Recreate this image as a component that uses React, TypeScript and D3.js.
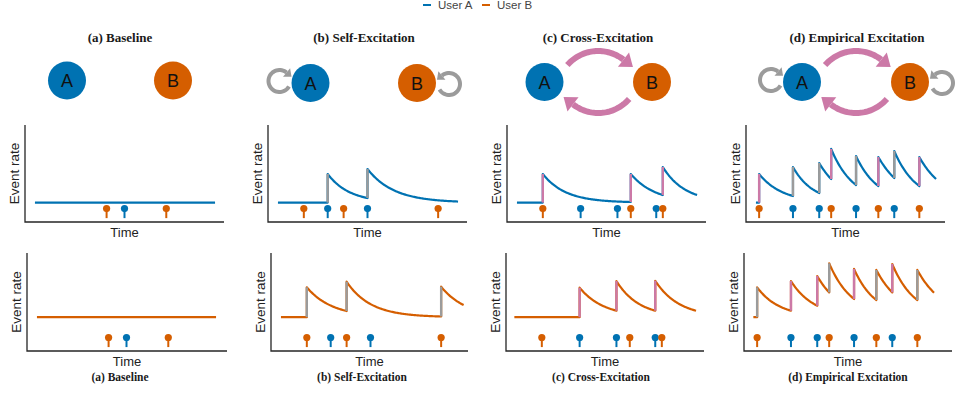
import { useEffect, useRef } from 'react';
import * as d3 from 'd3';

const BLUE = '#0072b2';
const ORANGE = '#d55e00';
const PINK = '#cc79a7';
const GRAY = '#9b9b9b';

const LEGEND_LABELS = ['User A', 'User B'];
const TITLES = ['(a) Baseline', '(b) Self-Excitation', '(c) Cross-Excitation', '(d) Empirical Excitation'];
const NODE_LABELS = ['A', 'B'];
const HAS_SELF_LOOPS = [false, true, false, true];
const HAS_CROSS_ARROWS = [false, false, true, true];

// event times (0-100 time units) per panel
const EVENTS_A = [[50], [30, 50], [37, 55.5, 75], [23.6, 36.8, 55.3, 74.5]];
const EVENTS_B = [[41, 71], [18, 38, 85.5], [18, 62.2, 78.3], [6.6, 42.8, 66.5, 87.1]];

// baseline rates and visible span of each rate curve
const BASE_A = 2;
const BASE_B = 3.45;
const START_A = [5, 5, 5, 5];
const END_A = [95.5, 95.5, 95.5, 95.5];
const START_B = [5, 5, 4.2, 4.7];
const END_B = [95, 96.8, 95.5, 95.5];

// jumps: [time, rate after jump, rate reached at next jump / end, source]
type Jump = [number, number, number, 'self' | 'cross'];
const JUMPS_A: Jump[][] = [
    [],
    [[30, 4.95, 2.47, 'self'], [50, 5.46, 2.11, 'self']],
    [[18, 4.95, 2.06, 'cross'], [62.2, 4.95, 2.78, 'cross'], [78.3, 5.67, 2.78, 'cross']],
    [
        [6.6, 4.95, 2.68, 'cross'], [23.6, 5.67, 2.99, 'self'], [36.8, 6.08, 4.43, 'self'],
        [42.8, 7.53, 3.81, 'cross'], [55.3, 6.8, 3.71, 'self'], [66.5, 6.7, 4.54, 'cross'],
        [74.5, 7.32, 3.71, 'self'], [87.1, 6.7, 4.43, 'cross']
    ]
];
const JUMPS_B: Jump[][] = [
    [],
    [[18, 6.5, 4.08, 'self'], [38, 7.07, 3.52, 'self'], [85.5, 6.56, 4.69, 'self']],
    [[37, 6.46, 4.11, 'cross'], [55.5, 7.14, 4.11, 'cross'], [75, 7.17, 4.11, 'cross']],
    [
        [6.6, 6.5, 4.11, 'self'], [23.6, 7.14, 4.62, 'cross'], [36.8, 7.65, 5.98, 'cross'],
        [42.8, 8.95, 5.31, 'self'], [55.3, 8.37, 5.2, 'cross'], [66.5, 8.27, 5.98, 'self'],
        [74.5, 8.88, 5.2, 'cross'], [87.1, 8.27, 5.95, 'self']
    ]
];

// layout
const W = 955;
const H = 394;
const X0_TOP = [25, 268, 507, 746];
const X0_BOT = [27, 271, 506, 744];
const AXIS_LEN_TOP = [199, 199, 199, 199];
const AXIS_LEN_BOT = [200, 197, 198, 208];
const TIME_LEN = 199;
const ROW_Y = [{ top: 125, bottom: 222 }, { top: 253, bottom: 351 }];
const TITLE_X_TOP = [120, 364, 598, 857];
const TITLE_X_BOT = [120, 362, 601, 848];
const NODE_X = [[67, 173], [310.5, 417], [544.5, 652], [802, 910]];
const NODE_Y = [80.5, 83, 82, 82];

const SANS = "'Liberation Sans', Arial, Helvetica, sans-serif";
const SERIF = "'Liberation Serif', 'Times New Roman', serif";

function ratePoints(base: number, start: number, end: number, jumps: Jump[]) {
    const pts: [number, number][] = [[start, base]];
    jumps.forEach((j, i) => {
        const [t0, peak, pre] = j;
        const prev = pts[pts.length - 1];
        pts.push([t0, prev[1]]);
        pts.push([t0, peak]);
        const t1 = i < jumps.length - 1 ? jumps[i + 1][0] : end;
        const k = Math.log((peak - base) / (pre - base)) / (t1 - t0);
        for (let t = t0 + 0.5; t < t1; t += 0.5) {
            pts.push([t, base + (peak - base) * Math.exp(-k * (t - t0))]);
        }
        pts.push([t1, pre]);
    });
    if (!jumps.length) pts.push([end, base]);
    return pts;
}

const App = () => {
    const svgRef = useRef<SVGSVGElement | null>(null);

    useEffect(() => {
        if (!svgRef.current) return;
        const svg = d3.select(svgRef.current);
        svg.selectAll('*').remove();

        // Legend
        const legend = svg.append('g');
        [[423, BLUE], [482, ORANGE]].forEach(([x, c], i) => {
            legend.append('line')
                .attr('x1', x as number).attr('x2', (x as number) + 8)
                .attr('y1', 5).attr('y2', 5)
                .attr('stroke', c as string).attr('stroke-width', 2);
            legend.append('text')
                .attr('x', (x as number) + 15).attr('y', 9)
                .attr('font-family', SANS).attr('font-size', 11.5)
                .attr('fill', '#444')
                .text(LEGEND_LABELS[i]);
        });

        const arrowHead = (g: any, cx: number, cy: number, r: number, angDeg: number, dir: number, len: number, half: number, color: string) => {
            const a = angDeg * Math.PI / 180;
            const px = cx + r * Math.cos(a), py = cy + r * Math.sin(a);
            const tx = -Math.sin(a) * dir, ty = Math.cos(a) * dir;
            const nx = Math.cos(a), ny = Math.sin(a);
            g.append('path')
                .attr('d', `M${px + nx * half},${py + ny * half}L${px + tx * len},${py + ty * len}L${px - nx * half},${py - ny * half}Z`)
                .attr('fill', color);
        };

        const arcPath = (cx: number, cy: number, r: number, a0: number, a1: number) => {
            const pts = d3.range(0, 41).map(i => {
                const a = (a0 + (a1 - a0) * i / 40) * Math.PI / 180;
                return [cx + r * Math.cos(a), cy + r * Math.sin(a)] as [number, number];
            });
            return d3.line()(pts);
        };

        // Diagrams
        TITLES.forEach((title, p) => {
            const g = svg.append('g');
            g.append('text')
                .attr('x', TITLE_X_TOP[p]).attr('y', 41.5)
                .attr('text-anchor', 'middle')
                .attr('font-family', SERIF).attr('font-weight', 700).attr('font-size', 13)
                .attr('fill', '#1a1a1a')
                .text(title);

            const [ax, bx] = NODE_X[p];
            const cy = NODE_Y[p];

            if (HAS_SELF_LOOPS[p]) {
                const lr = 11;
                const la = ax - 31, lb = bx + 32;
                g.append('path').attr('d', arcPath(la, cy - 2, lr, 30, 310))
                    .attr('fill', 'none').attr('stroke', GRAY).attr('stroke-width', 4);
                arrowHead(g, la, cy - 2, lr, 310, 1, 6.5, 5.5, GRAY);
                g.append('path').attr('d', arcPath(lb, cy + 1, lr, 150, -130))
                    .attr('fill', 'none').attr('stroke', GRAY).attr('stroke-width', 4);
                arrowHead(g, lb, cy + 1, lr, -130, -1, 6.5, 5.5, GRAY);
            }

            if (HAS_CROSS_ARROWS[p]) {
                const mx = (ax + bx) / 2;
                const r = 41;
                g.append('path').attr('d', arcPath(mx, cy + 10, r, -139, -52))
                    .attr('fill', 'none').attr('stroke', PINK).attr('stroke-width', 6);
                arrowHead(g, mx, cy + 10, r, -52, 1, 12, 9, PINK);
                g.append('path').attr('d', arcPath(mx, cy - 10, r, 41, 128))
                    .attr('fill', 'none').attr('stroke', PINK).attr('stroke-width', 6);
                arrowHead(g, mx, cy - 10, r, 128, 1, 12, 9, PINK);
            }

            [ax, bx].forEach((x, i) => {
                g.append('circle').attr('cx', x).attr('cy', cy).attr('r', 19)
                    .attr('fill', i === 0 ? BLUE : ORANGE);
                g.append('text')
                    .attr('x', x).attr('y', cy + 6.5)
                    .attr('text-anchor', 'middle')
                    .attr('font-family', SANS).attr('font-size', 18)
                    .attr('fill', '#111')
                    .text(NODE_LABELS[i]);
            });
        });

        // Rate panels
        [0, 1].forEach(row => {
            const { top, bottom } = ROW_Y[row];
            const yScale = d3.scaleLinear().domain([0, 10]).range([bottom, top]);
            TITLES.forEach((title, p) => {
                const x0 = row === 0 ? X0_TOP[p] : X0_BOT[p];
                const axisLen = row === 0 ? AXIS_LEN_TOP[p] : AXIS_LEN_BOT[p];
                const xScale = d3.scaleLinear().domain([0, 100]).range([x0, x0 + TIME_LEN]);
                const g = svg.append('g');

                const color = row === 0 ? BLUE : ORANGE;
                const base = row === 0 ? BASE_A : BASE_B;
                const start = row === 0 ? START_A[p] : START_B[p];
                const end = row === 0 ? END_A[p] : END_B[p];
                const jumps = row === 0 ? JUMPS_A[p] : JUMPS_B[p];
                const pts = ratePoints(base, start, end, jumps);

                const line = d3.line<[number, number]>()
                    .x(d => xScale(d[0]))
                    .y(d => yScale(d[1]));

                g.append('path')
                    .attr('d', line(pts))
                    .attr('fill', 'none')
                    .attr('stroke', color)
                    .attr('stroke-width', 2.2)
                    .attr('stroke-linejoin', 'round');

                // jump segments coloured by excitation source
                jumps.forEach((j, i) => {
                    const before = i === 0 ? base : jumps[i - 1][2];
                    g.append('line')
                        .attr('x1', xScale(j[0])).attr('x2', xScale(j[0]))
                        .attr('y1', yScale(before)).attr('y2', yScale(j[1]))
                        .attr('stroke', j[3] === 'self' ? GRAY : PINK)
                        .attr('stroke-width', 2.4);
                });

                // event stems
                const events = [
                    ...EVENTS_A[p].map(t => ({ t, c: BLUE })),
                    ...EVENTS_B[p].map(t => ({ t, c: ORANGE }))
                ];
                events.forEach(e => {
                    g.append('line')
                        .attr('x1', xScale(e.t)).attr('x2', xScale(e.t))
                        .attr('y1', yScale(0.4)).attr('y2', yScale(1.38))
                        .attr('stroke', e.c).attr('stroke-width', 2);
                    g.append('circle')
                        .attr('cx', xScale(e.t)).attr('cy', yScale(1.38))
                        .attr('r', 3.6).attr('fill', e.c);
                });

                // axes
                g.append('path')
                    .attr('d', `M${x0},${top}V${bottom}H${x0 + axisLen}`)
                    .attr('fill', 'none')
                    .attr('stroke', '#262626')
                    .attr('stroke-width', 1.3);

                g.append('text')
                    .attr('x', x0 + axisLen / 2).attr('y', bottom + 15)
                    .attr('text-anchor', 'middle')
                    .attr('font-family', SANS).attr('font-size', 13)
                    .attr('fill', '#222')
                    .text('Time');

                g.append('text')
                    .attr('transform', `translate(${x0 - 6.5},${(top + bottom) / 2}) rotate(-90)`)
                    .attr('text-anchor', 'middle')
                    .attr('font-family', SANS).attr('font-size', 13.5)
                    .attr('fill', '#222')
                    .text('Event rate');

                if (row === 1) {
                    g.append('text')
                        .attr('x', TITLE_X_BOT[p]).attr('y', 381)
                        .attr('text-anchor', 'middle')
                        .attr('font-family', SERIF).attr('font-weight', 700).attr('font-size', 11.5)
                        .attr('fill', '#1a1a1a')
                        .text(title);
                }
            });
        });
    }, []);

    return (
        <div style={{ position: 'absolute', left: 0, top: 0 }}>
            <svg ref={svgRef} width={W} height={H} style={{ display: 'block', background: '#fff' }}></svg>
        </div>
    );
};

export default App;
